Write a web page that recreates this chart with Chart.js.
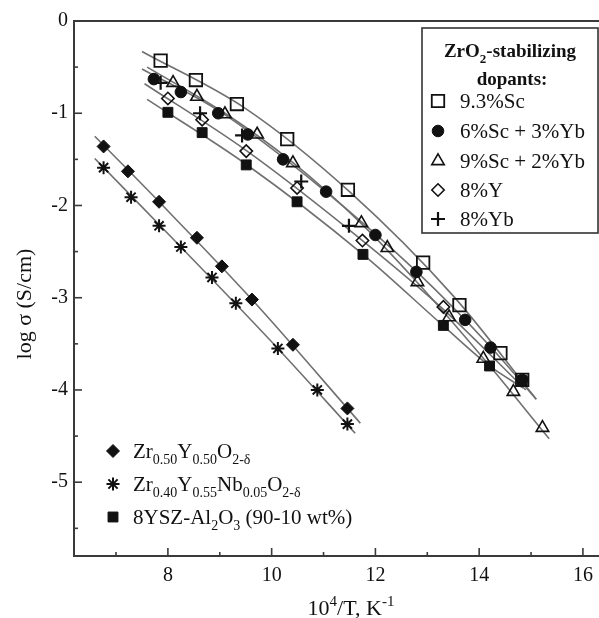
<!DOCTYPE html>
<html>
<head>
<meta charset="utf-8">
<script src="https://cdn.jsdelivr.net/npm/chart.js@4.4.1/dist/chart.umd.min.js"></script>
<style>
html,body{margin:0;padding:0;background:#fff;}
#wrap{position:relative;width:599px;height:618px;}
</style>
</head>
<body>
<div id="wrap"><canvas id="c" width="599" height="618"></canvas></div>
<script>
// ---------- DATA ----------
const seriesNames = ['9.3%Sc', '6%Sc + 3%Yb', '9%Sc + 2%Yb', '8%Y', '8%Yb',
  'Zr0.50Y0.50O2-δ', 'Zr0.40Y0.55Nb0.05O2-δ', '8YSZ-Al2O3 (90-10 wt%)'];

const sc93X = [7.86, 8.54, 9.33, 10.30, 11.47, 12.92, 13.62, 14.41, 14.83];
const sc93Y = [-0.43, -0.64, -0.90, -1.28, -1.83, -2.62, -3.08, -3.60, -3.89];

const sc6yb3X = [7.73, 8.25, 8.97, 9.54, 10.22, 11.05, 12.00, 12.79, 13.73, 14.22, 14.83];
const sc6yb3Y = [-0.63, -0.77, -1.00, -1.23, -1.50, -1.85, -2.32, -2.72, -3.24, -3.54, -3.89];

const sc9yb2X = [8.10, 8.56, 9.10, 9.72, 10.41, 11.73, 12.23, 12.81, 13.42, 14.08, 14.66, 15.22];
const sc9yb2Y = [-0.67, -0.82, -1.01, -1.23, -1.54, -2.19, -2.46, -2.83, -3.21, -3.66, -4.02, -4.41];

const y8X = [8.00, 8.66, 9.51, 10.49, 11.75, 13.31];
const y8Y = [-0.84, -1.07, -1.41, -1.81, -2.38, -3.10];

const yb8X = [7.86, 8.62, 9.43, 10.57, 11.49];
const yb8Y = [-0.67, -1.00, -1.24, -1.74, -2.22];

const zyX = [6.76, 7.23, 7.83, 8.56, 9.04, 9.62, 10.41, 11.46];
const zyY = [-1.36, -1.63, -1.96, -2.35, -2.66, -3.02, -3.51, -4.20];

const zynX = [6.76, 7.29, 7.83, 8.25, 8.85, 9.31, 10.12, 10.88, 11.46];
const zynY = [-1.59, -1.91, -2.22, -2.45, -2.78, -3.06, -3.55, -4.00, -4.37];

const alX = [8.00, 8.66, 9.51, 10.49, 11.76, 13.31, 14.20, 14.83];
const alY = [-0.99, -1.21, -1.56, -1.96, -2.53, -3.30, -3.74, -3.90];

// fitted curves (as drawn in the picture)
const fitSc93X = [7.50, 9.50, 11.50, 13.50, 15.10];
const fitSc93Y = [-0.33, -0.95, -1.85, -2.98, -4.10];
const fitSc6X = [7.50, 9.00, 11.00, 12.80, 14.20, 15.10];
const fitSc6Y = [-0.52, -0.98, -1.83, -2.72, -3.52, -4.10];
const fitSc9X = [7.60, 9.10, 10.40, 11.70, 12.80, 14.10, 15.35];
const fitSc9Y = [-0.50, -1.00, -1.53, -2.18, -2.83, -3.67, -4.53];
const fitY8X = [7.55, 9.50, 11.75, 13.30, 14.90];
const fitY8Y = [-0.68, -1.40, -2.38, -3.12, -4.00];
const fitAlX = [7.60, 9.50, 11.76, 13.30, 14.20, 14.85];
const fitAlY = [-0.85, -1.55, -2.53, -3.30, -3.74, -3.98];
const fitZyX = [6.59, 7.83, 9.62, 11.71];
const fitZyY = [-1.25, -1.96, -3.02, -4.36];
const fitZynX = [6.59, 8.25, 10.12, 11.61];
const fitZynY = [-1.49, -2.45, -3.55, -4.47];

// axes
const xTickValues = [7, 8, 9, 10, 11, 12, 13, 14, 15, 16];
const xTickLabels = [8, 10, 12, 14, 16];
const yTickValues = [-5.5, -5, -4.5, -4, -3.5, -3, -2.5, -2, -1.5, -1, -0.5, 0];
const yTickLabels = [-5, -4, -3, -2, -1, 0];

// ---------- HELPERS ----------
const SERIF = '"Liberation Serif", "Times New Roman", Times, serif';
const pts = (xs, ys) => xs.map((x, i) => ({x: x, y: ys[i]}));
const INK = '#111';

const markerStyles = [
  {pointStyle: 'rect', radius: 8.8, borderWidth: 1.8, fill: 'rgba(255,255,255,0)'},
  {pointStyle: 'circle', radius: 5.8, borderWidth: 1, fill: INK},
  {pointStyle: 'triangle', radius: 7.2, borderWidth: 1.6, fill: 'rgba(255,255,255,0)'},
  {pointStyle: 'rectRot', radius: 6.2, borderWidth: 1.6, fill: 'rgba(255,255,255,0)'},
  {pointStyle: 'cross', radius: 7, borderWidth: 2.2, fill: 'rgba(255,255,255,0)'},
  {pointStyle: 'rectRot', radius: 6.5, borderWidth: 1, fill: INK},
  {pointStyle: 'star', radius: 6.5, borderWidth: 2, fill: INK},
  {pointStyle: 'rect', radius: 7, borderWidth: 1, fill: INK}
];
const markerData = [pts(sc93X, sc93Y), pts(sc6yb3X, sc6yb3Y), pts(sc9yb2X, sc9yb2Y),
  pts(y8X, y8Y), pts(yb8X, yb8Y), pts(zyX, zyY), pts(zynX, zynY), pts(alX, alY)];

const fitData = [pts(fitSc93X, fitSc93Y), pts(fitSc6X, fitSc6Y), pts(fitSc9X, fitSc9Y),
  pts(fitY8X, fitY8Y), pts(fitAlX, fitAlY), pts(fitZyX, fitZyY), pts(fitZynX, fitZynY)];

const datasets = [];
markerData.forEach((d, i) => {
  const s = markerStyles[i];
  datasets.push({
    label: seriesNames[i], data: d, showLine: false, order: 1,
    pointStyle: s.pointStyle, pointRadius: s.radius, pointBorderWidth: s.borderWidth,
    pointBackgroundColor: s.fill, pointBorderColor: INK,
    pointHoverRadius: s.radius
  });
});
fitData.forEach((d) => {
  datasets.push({
    label: 'fit', data: d, showLine: true, order: 10,
    borderColor: '#707070', borderWidth: 1.6, pointRadius: 0,
    cubicInterpolationMode: 'monotone', fill: false
  });
});

function drawRich(ctx, parts, x, y, size, bold, align) {
  const fontOf = (p) => (bold ? 'bold ' : '') + ((p.sub || p.sup) ? Math.round(size * 0.66) : size) + 'px ' + SERIF;
  let total = 0;
  parts.forEach(p => { ctx.font = fontOf(p); total += ctx.measureText(p.t).width; });
  let cx = align === 'center' ? x - total / 2 : x;
  ctx.textAlign = 'left';
  ctx.textBaseline = 'alphabetic';
  parts.forEach(p => {
    ctx.font = fontOf(p);
    const dy = p.sub ? size * 0.30 : (p.sup ? -size * 0.40 : 0);
    ctx.fillText(p.t, cx, y + dy);
    cx += ctx.measureText(p.t).width;
  });
}

function drawMarker(ctx, i, x, y) {
  const s = markerStyles[i];
  ctx.save();
  ctx.fillStyle = s.fill;
  ctx.strokeStyle = INK;
  ctx.lineWidth = s.borderWidth;
  if (Chart.helpers && Chart.helpers.drawPoint) {
    Chart.helpers.drawPoint(ctx, {pointStyle: s.pointStyle, rotation: 0, radius: s.radius, borderWidth: s.borderWidth}, x, y);
  }
  ctx.restore();
}

const topLegendRich = [
  [{t: '9.3%Sc'}],
  [{t: '6%Sc + 3%Yb'}],
  [{t: '9%Sc + 2%Yb'}],
  [{t: '8%Y'}],
  [{t: '8%Yb'}]
];
const bottomLegendRich = [
  [{t: 'Zr'}, {t: '0.50', sub: true}, {t: 'Y'}, {t: '0.50', sub: true}, {t: 'O'}, {t: '2-δ', sub: true}],
  [{t: 'Zr'}, {t: '0.40', sub: true}, {t: 'Y'}, {t: '0.55', sub: true}, {t: 'Nb'}, {t: '0.05', sub: true}, {t: 'O'}, {t: '2-δ', sub: true}],
  [{t: '8YSZ-Al'}, {t: '2', sub: true}, {t: 'O'}, {t: '3', sub: true}, {t: ' (90-10 wt%)'}]
];

const decor = {
  id: 'decor',
  afterDraw(chart) {
    const ctx = chart.ctx;
    const a = chart.chartArea;
    const xs = chart.scales.x, ys = chart.scales.y;
    ctx.save();
    ctx.strokeStyle = '#3a3a3a';
    ctx.lineWidth = 2;
    // top frame line
    ctx.beginPath(); ctx.moveTo(a.left - 1, a.top); ctx.lineTo(599, a.top); ctx.stroke();
    // inward ticks
    ctx.lineWidth = 1.6;
    xTickValues.forEach(v => {
      const px = xs.getPixelForValue(v);
      const len = (v % 2 === 0) ? 8 : 4;
      ctx.beginPath(); ctx.moveTo(px, a.bottom); ctx.lineTo(px, a.bottom - len); ctx.stroke();
    });
    yTickValues.forEach(v => {
      const py = ys.getPixelForValue(v);
      const len = Number.isInteger(v) ? 8 : 4;
      ctx.beginPath(); ctx.moveTo(a.left, py); ctx.lineTo(a.left + len, py); ctx.stroke();
    });
    // axis titles
    ctx.fillStyle = INK;
    drawRich(ctx, [{t: '10'}, {t: '4', sup: true}, {t: '/T, K'}, {t: '-1', sup: true}], 351, 615, 22, false, 'center');
    ctx.save();
    ctx.translate(31, 304);
    ctx.rotate(-Math.PI / 2);
    drawRich(ctx, [{t: 'log σ (S/cm)'}], 0, 0, 22, false, 'center');
    ctx.restore();

    // top-right legend box
    ctx.lineWidth = 1.6;
    ctx.strokeStyle = '#333';
    ctx.strokeRect(422, 28, 176, 205);
    ctx.fillStyle = INK;
    drawRich(ctx, [{t: 'ZrO'}, {t: '2', sub: true}, {t: '-stabilizing'}], 510, 57, 19, true, 'center');
    drawRich(ctx, [{t: 'dopants:'}], 512, 85, 19, true, 'center');
    const topBase = [108, 138, 168, 197, 226];
    topLegendRich.forEach((parts, i) => {
      drawMarker(ctx, i, 438, topBase[i] - 7);
      ctx.fillStyle = INK;
      drawRich(ctx, parts, 460, topBase[i], 21, false, 'left');
    });
    // bottom-left legend
    const botBase = [458, 491, 524];
    bottomLegendRich.forEach((parts, i) => {
      drawMarker(ctx, 5 + i, 113, botBase[i] - 7);
      ctx.fillStyle = INK;
      drawRich(ctx, parts, 133, botBase[i], 21, false, 'left');
    });
    ctx.restore();
  }
};

new Chart(document.getElementById('c'), {
  type: 'scatter',
  data: {datasets: datasets},
  options: {
    responsive: false,
    animation: false,
    events: [],
    layout: {autoPadding: false, padding: {top: 21, right: 0, left: 0, bottom: 0}},
    plugins: {legend: {display: false}, tooltip: {enabled: false}, title: {display: false}},
    scales: {
      x: {
        type: 'linear', min: 6.19, max: 16.31,
        afterBuildTicks: (s) => { s.ticks = xTickValues.map(v => ({value: v})); },
        afterFit: (s) => { s.height = 62; s.paddingLeft = 0; s.paddingRight = 0; },
        grid: {display: false, drawTicks: false},
        border: {display: true, color: '#3a3a3a', width: 2},
        ticks: {
          autoSkip: false, maxRotation: 0, padding: 8, color: INK,
          font: {family: SERIF, size: 20},
          callback: (v) => xTickLabels.includes(v) ? String(v) : ''
        }
      },
      y: {
        type: 'linear', min: -5.8, max: 0,
        afterBuildTicks: (s) => { s.ticks = yTickValues.map(v => ({value: v})); },
        afterFit: (s) => { s.width = 74; s.paddingTop = 0; s.paddingBottom = 0; },
        grid: {display: false, drawTicks: false},
        border: {display: true, color: '#3a3a3a', width: 2},
        ticks: {
          autoSkip: false, padding: 6, color: INK,
          font: {family: SERIF, size: 20},
          callback: (v) => yTickLabels.includes(v) ? String(v) : ''
        }
      }
    }
  },
  plugins: [decor]
});
</script>
</body>
</html>
